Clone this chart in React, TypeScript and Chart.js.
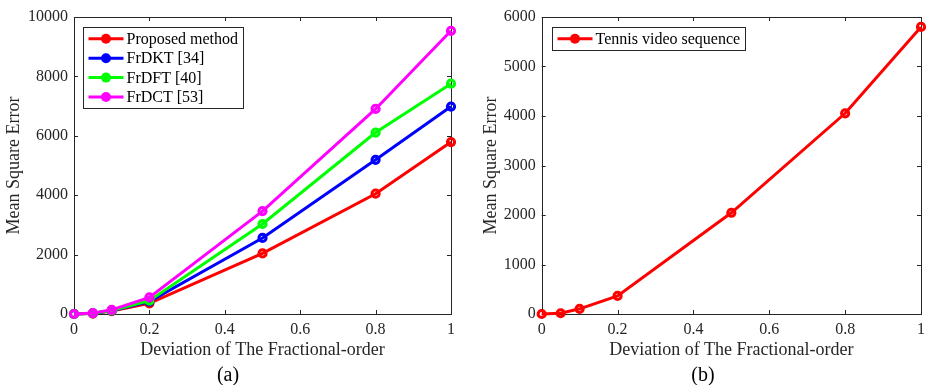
import React, { useEffect, useRef } from "react";
import { Chart, registerables } from "chart.js";

Chart.register(...registerables);

// ---------- data ----------
const deviation = [0, 0.05, 0.1, 0.2, 0.5, 0.8, 1];
const proposedMSE = [0, 15, 100, 360, 2040, 4050, 5790];
const frdktMSE = [0, 25, 110, 420, 2560, 5190, 6985];
const frdftMSE = [0, 28, 120, 450, 3030, 6110, 7755];
const frdctMSE = [0, 30, 140, 560, 3465, 6905, 9535];
const tennisMSE = [0, 15, 105, 365, 2045, 4055, 5800];

const seriesLabelsA = ["Proposed method", "FrDKT [34]", "FrDFT [40]", "FrDCT [53]"];
const seriesLabelsB = ["Tennis video sequence"];
const seriesColorsA = ["#ff0000", "#0000ff", "#00ff00", "#ff00ff"];
const seriesColorsB = ["#ff0000"];

const xAxisTitle = "Deviation of The Fractional-order";
const yAxisTitle = "Mean Square Error";
const xMin = 0, xMax = 1, xStep = 0.2;
const yMaxA = 10000, yStepA = 2000;
const yMaxB = 6000, yStepB = 1000;

// ---------- styles ----------
const FONT = "'Liberation Serif', 'Times New Roman', Times, serif";
const AXIS_COLOR = "#262626";

const framePlugin = {
  id: "matlabFrame",
  beforeDatasetsDraw(chart: any) {
    const { ctx, chartArea: a, scales } = chart;
    const tl = 4;
    ctx.save();
    ctx.strokeStyle = AXIS_COLOR;
    ctx.lineWidth = 1;
    ctx.beginPath();
    scales.x.ticks.forEach((t: any) => {
      const px = Math.round(scales.x.getPixelForValue(t.value)) + 0.5;
      ctx.moveTo(px, a.bottom);
      ctx.lineTo(px, a.bottom - tl);
      ctx.moveTo(px, a.top);
      ctx.lineTo(px, a.top + tl);
    });
    scales.y.ticks.forEach((t: any) => {
      const py = Math.round(scales.y.getPixelForValue(t.value)) + 0.5;
      ctx.moveTo(a.left, py);
      ctx.lineTo(a.left + tl, py);
      ctx.moveTo(a.right, py);
      ctx.lineTo(a.right - tl, py);
    });
    ctx.stroke();
    ctx.strokeRect(
      Math.round(a.left) + 0.5,
      Math.round(a.top) + 0.5,
      Math.round(a.right) - Math.round(a.left),
      Math.round(a.bottom) - Math.round(a.top)
    );
    ctx.restore();
  },
};

const boxLegendPlugin = {
  id: "boxLegend",
  afterDatasetsDraw(chart: any, _args: any, opts: any) {
    const { ctx, chartArea: a } = chart;
    const ds = chart.data.datasets;
    ctx.save();
    ctx.font = `16px ${FONT}`;
    const textW = Math.max(...ds.map((d: any) => ctx.measureText(d.label).width));
    const rowH = 19.4;
    const padV = 11.3;
    const x0 = Math.round(a.left + opts.offsetX) + 0.5;
    const y0 = Math.round(a.top + opts.offsetY) + 0.5;
    const w = Math.round(43 + textW + 5);
    const h = Math.round(padV * 2 + rowH * (ds.length - 1));
    ctx.fillStyle = "#ffffff";
    ctx.fillRect(x0, y0, w, h);
    ctx.strokeStyle = AXIS_COLOR;
    ctx.lineWidth = 1;
    ctx.strokeRect(x0, y0, w, h);
    ds.forEach((d: any, i: number) => {
      const cy = y0 + padV + i * rowH;
      ctx.strokeStyle = d.borderColor;
      ctx.lineWidth = 3;
      ctx.beginPath();
      ctx.moveTo(x0 + 5, cy);
      ctx.lineTo(x0 + 40, cy);
      ctx.stroke();
      ctx.fillStyle = d.borderColor;
      ctx.beginPath();
      ctx.arc(x0 + 22.5, cy, 5, 0, Math.PI * 2);
      ctx.fill();
      ctx.fillStyle = "#000000";
      ctx.textBaseline = "middle";
      ctx.textAlign = "left";
      ctx.fillText(d.label, x0 + 43, cy + 1);
    });
    ctx.restore();
  },
};

function fmt(v: number) {
  return String(Math.round(v * 100) / 100);
}

function makeConfig(
  labels: string[],
  colors: string[],
  values: number[][],
  yMax: number,
  yStep: number,
  padding: any,
  yAxisWidth: number,
  xAxisHeight: number,
  legendOffset: { offsetX: number; offsetY: number }
): any {
  const n = labels.length;
  return {
    type: "line",
    data: {
      datasets: labels.map((label, i) => ({
        label,
        data: deviation.map((x, j) => ({ x, y: values[i][j] })),
        borderColor: colors[i],
        backgroundColor: colors[i],
        pointBackgroundColor: "rgba(0,0,0,0)",
        pointBorderColor: colors[i],
        pointRadius: 3.6,
        pointBorderWidth: 3,
        borderWidth: 3,
        tension: 0,
        clip: false,
        order: n - i,
      })),
    },
    options: {
      responsive: false,
      animation: false,
      devicePixelRatio: 1,
      layout: { padding },
      plugins: {
        legend: { display: false },
        tooltip: { enabled: false },
        boxLegend: legendOffset,
      },
      scales: {
        x: {
          type: "linear",
          min: xMin,
          max: xMax,
          grid: { display: false, drawTicks: false },
          border: { display: false },
          ticks: {
            stepSize: xStep,
            padding: 6,
            maxRotation: 0,
            color: AXIS_COLOR,
            font: { family: FONT, size: 16 },
            callback: (v: number) => fmt(v),
          },
          title: {
            display: true,
            text: xAxisTitle,
            color: AXIS_COLOR,
            padding: 0,
            font: { family: FONT, size: 18 },
          },
          afterFit: (s: any) => {
            s.height = xAxisHeight;
          },
        },
        y: {
          type: "linear",
          min: 0,
          max: yMax,
          grid: { display: false, drawTicks: false },
          border: { display: false },
          ticks: {
            stepSize: yStep,
            padding: 6,
            color: AXIS_COLOR,
            font: { family: FONT, size: 16 },
            callback: (v: number) => fmt(v),
          },
          title: {
            display: true,
            text: yAxisTitle,
            color: AXIS_COLOR,
            padding: 0,
            font: { family: FONT, size: 18 },
          },
          afterFit: (s: any) => {
            s.width = yAxisWidth;
          },
        },
      },
    },
    plugins: [framePlugin, boxLegendPlugin],
  };
}

function ChartCanvas({ config, left, width }: { config: any; left: number; width: number }) {
  const ref = useRef<HTMLCanvasElement | null>(null);
  useEffect(() => {
    if (!ref.current) return;
    const chart = new Chart(ref.current, config);
    return () => chart.destroy();
  }, [config]);
  return (
    <canvas
      ref={ref}
      width={width}
      height={385}
      style={{ position: "absolute", left, top: 0, width, height: 385, display: "block" }}
    />
  );
}

const configA = makeConfig(
  seriesLabelsA,
  seriesColorsA,
  [proposedMSE, frdktMSE, frdftMSE, frdctMSE],
  yMaxA,
  yStepA,
  { left: 3, top: 17, right: 19, bottom: 23.5 },
  71,
  47.5,
  { offsetX: 9, offsetY: 9.5 }
);

const configB = makeConfig(
  seriesLabelsB,
  seriesColorsB,
  [tennisMSE],
  yMaxB,
  yStepB,
  { left: 10, top: 17, right: 5, bottom: 23.5 },
  61.7,
  47.5,
  { offsetX: 10, offsetY: 9.5 }
);

const captionStyle: React.CSSProperties = {
  position: "absolute",
  top: 362,
  fontFamily: FONT,
  fontSize: 20,
  lineHeight: "24px",
  color: "#000",
  textAlign: "center",
  width: 60,
};

export default function App() {
  return (
    <div
      style={{
        position: "fixed",
        left: 0,
        top: 0,
        width: 931,
        height: 385,
        background: "#fff",
        overflow: "hidden",
      }}
    >
      <ChartCanvas config={configA} left={0} width={470} />
      <ChartCanvas config={configB} left={470} width={461} />
      <div style={{ ...captionStyle, left: 228 - 30 }}>(a)</div>
      <div style={{ ...captionStyle, left: 703 - 30 }}>(b)</div>
    </div>
  );
}
